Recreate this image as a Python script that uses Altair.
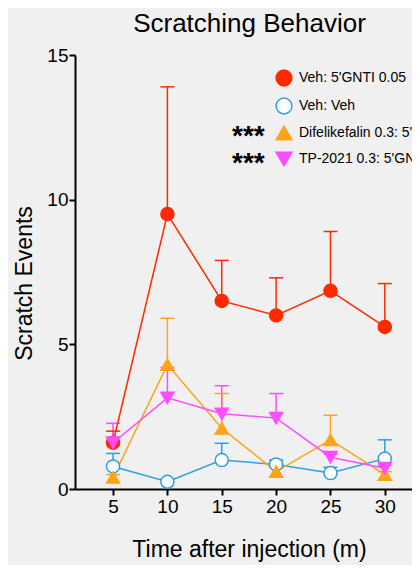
import altair as alt
import pandas as pd

times = [5, 10, 15, 20, 25, 30]
groups = ["Veh: 5'GNTI 0.05", "Veh: Veh", "Difelikefalin 0.3: 5'GNTI 0.05", "TP-2021 0.3: 5'GNTI 0.05"]
gnti_mean = [1.6, 9.5, 6.5, 6.0, 6.85, 5.6]
gnti_err = [0.4, 4.4, 1.4, 1.3, 2.05, 1.5]
veh_mean = [0.78, 0.25, 1.0, 0.85, 0.55, 1.05]
veh_err = [0.45, 0.1, 0.58, 0.15, 0.2, 0.65]
dife_mean = [0.4, 4.3, 2.1, 0.6, 1.7, 0.5]
dife_err = [0.1, 1.6, 1.2, 0.15, 0.85, 0.1]
tp_mean = [1.6, 3.15, 2.6, 2.45, 1.1, 0.72]
tp_err = [0.67, 1.05, 0.97, 0.85, 0.1, 0.1]
stars = ["", "", "***", "***"]

colors = ["#ff2a00", "#2e9fe0", "#ffa31a", "#ff4cff"]
fills = ["#ff2a00", "#ffffff", "#ffa31a", "#ff4cff"]
shapes = ["circle", "circle", "triangle-up", "triangle-down"]

rows = []
for gi, (g, m, e) in enumerate(zip(groups, [gnti_mean, veh_mean, dife_mean, tp_mean],
                                   [gnti_err, veh_err, dife_err, tp_err])):
    for t, mv, ev in zip(times, m, e):
        rows.append({"group": g, "gi": gi, "time": t, "mean": mv, "upper": mv + ev})
df = pd.DataFrame(rows)

FONT = "Liberation Sans, Arial, sans-serif"

x = alt.X("time:Q", scale=alt.Scale(domain=[1.5, 32.5], nice=False, zero=False),
          axis=alt.Axis(values=times, title="Time after injection (m)", titleX=174))
y = alt.Y("mean:Q", scale=alt.Scale(domain=[0, 15], nice=False),
          axis=alt.Axis(values=[0, 5, 10, 15], title="Scratch Events", titleY=228))

legend = alt.Legend(orient="none", legendX=200, legendY=14, title=None)

# series colour for lines / error bars (separate scale, no legend)
series_color = alt.Color("gi:O", scale=alt.Scale(range=colors), legend=None)

base = alt.Chart(df)
lines = base.mark_line(strokeWidth=1.5).encode(x=x, y=y, color=series_color, detail="group:N")
rules = base.mark_rule(strokeWidth=1.5).encode(x="time:Q", y="mean:Q", y2="upper:Q", color=series_color)
caps = base.mark_point(shape="stroke", size=196, strokeWidth=1.5, opacity=1).encode(
    x="time:Q", y="upper:Q", color=series_color)
points = base.mark_point(size=170, strokeWidth=1.5, opacity=1, fillOpacity=1).encode(
    x="time:Q", y="mean:Q",
    stroke=alt.Stroke("group:N", scale=alt.Scale(domain=groups, range=colors), legend=legend),
    fill=alt.Fill("group:N", scale=alt.Scale(domain=groups, range=fills), legend=legend),
    shape=alt.Shape("group:N", scale=alt.Scale(domain=groups, range=shapes), legend=legend),
)

star_marks = []
for i, s in enumerate(stars):
    if s:
        star_marks.append(
            alt.Chart(pd.DataFrame({"s": [s]})).mark_text(
                font=FONT, fontSize=28, fontWeight="bold",
                align="left", baseline="alphabetic", color="black"
            ).encode(text="s:N", x=alt.value(157), y=alt.value(22 + 26.5 * i + 15))
        )

chart = alt.layer(rules, caps, lines, points, *star_marks).properties(
    width=337, height=434,
    autosize="none",
    padding={"left": 67, "top": 47, "right": 0, "bottom": 76},
    background="#f0f0f0",
    title=alt.Title("Scratching Behavior", font=FONT, fontSize=26, fontWeight="normal",
                    color="black", dx=6, offset=9),
).configure_view(stroke=None).configure_axis(
    domainColor="black", domainWidth=2, tickColor="black", tickWidth=2, tickSize=6,
    labelFont=FONT, labelFontSize=19, labelColor="black", labelPadding=2,
    titleFont=FONT, titleFontSize=23, titleFontWeight="normal", titleColor="black",
    grid=False,
).configure_axisY(titlePadding=10, labelPadding=1).configure_axisX(titlePadding=22).configure_legend(
    labelFont=FONT, labelFontSize=14, labelColor="black", labelLimit=1000,
    symbolSize=250, symbolStrokeWidth=1.5, rowPadding=6, labelOffset=6, padding=0,
)

chart.save("out.html", embed_options={"renderer": "svg", "actions": False})
